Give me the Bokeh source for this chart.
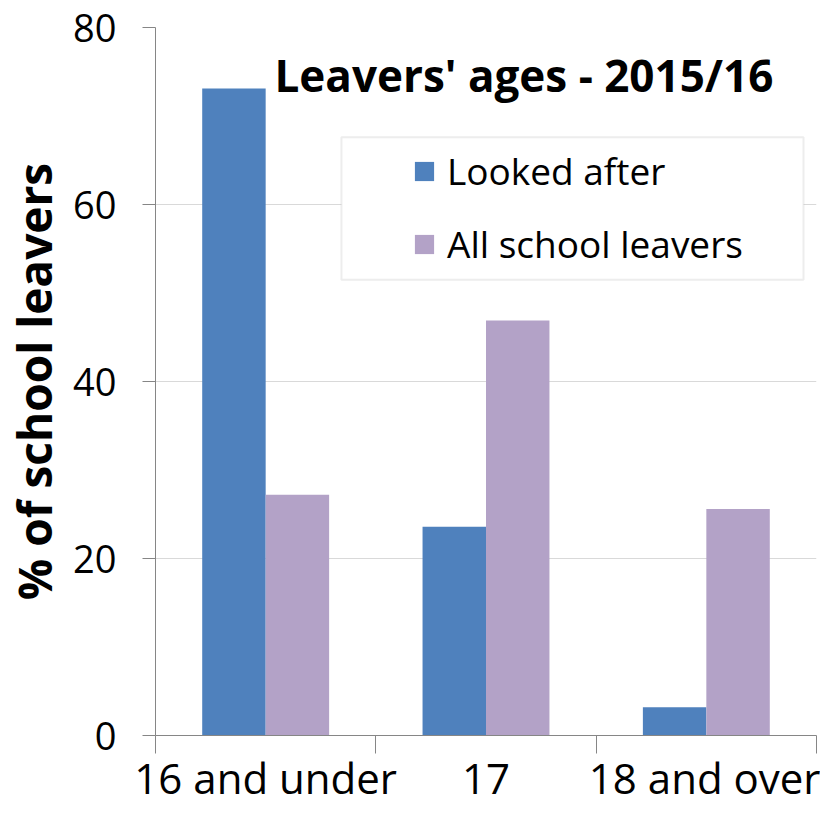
from bokeh.plotting import figure
from bokeh.models import (ColumnDataSource, Range1d, FixedTicker, Legend, LegendItem,
                          BoxAnnotation, Label)
from bokeh.transform import dodge
from bokeh.embed import file_html
from bokeh.resources import INLINE

# ---- data ----
categories = ["16 and under", "17", "18 and over"]
looked_after = [73.1, 23.6, 3.2]
all_leavers = [27.2, 46.9, 25.6]
y_ticks = [0, 20, 40, 60, 80]
series_names = ["Looked after", "All school leavers"]
title_text = "Leavers' ages - 2015/16"
y_label = "% of school leavers"

BLUE = "#4F81BD"
PURPLE = "#B3A2C7"
AXIS = "#868686"
GRID = "#D9D9D9"
FONT = "Open Sans"

centers = [i + 0.5 for i in range(len(categories))]
src = ColumnDataSource(dict(x=centers, cat=categories, la=looked_after, al=all_leavers))

p = figure(width=820, height=809, output_backend="svg", toolbar_location=None,
           x_range=Range1d(0, len(categories)), y_range=Range1d(0, 80),
           min_border_left=155, min_border_right=4, min_border_top=27,
           min_border_bottom=74, outline_line_color=None, background_fill_color="white")

bw = 0.288
r1 = p.vbar(x=dodge("x", -bw / 2, range=p.x_range), top="la", width=bw, source=src,
            fill_color=BLUE, line_color=None)
r2 = p.vbar(x=dodge("x", bw / 2, range=p.x_range), top="al", width=bw, source=src,
            fill_color=PURPLE, line_color=None)

# grid
p.xgrid.visible = False
p.ygrid.grid_line_color = GRID
p.ygrid.grid_line_width = 1
p.ygrid.ticker = FixedTicker(ticks=y_ticks[1:])

# y axis
p.yaxis.ticker = FixedTicker(ticks=y_ticks)
p.yaxis.axis_line_color = AXIS
p.yaxis.major_tick_line_color = AXIS
p.yaxis.major_tick_out = 13
p.yaxis.major_tick_in = 0
p.yaxis.minor_tick_line_color = None
p.yaxis.minor_tick_out = 0
p.yaxis.minor_tick_in = 0
p.yaxis.major_label_text_font = FONT
p.yaxis.major_label_text_font_size = "38px"
p.yaxis.major_label_text_color = "black"
p.yaxis.major_label_standoff = 26
p.yaxis.axis_label = y_label
p.yaxis.axis_label_text_font = FONT
p.yaxis.axis_label_text_font_style = "bold"
p.yaxis.axis_label_text_font_size = "46px"
p.yaxis.axis_label_text_color = "black"
p.yaxis.axis_label_standoff = 5

# x axis: labels at centers, tick marks at category boundaries
p.xaxis.ticker = FixedTicker(ticks=centers, minor_ticks=list(range(len(categories) + 1)))
p.xaxis.major_label_overrides = {c: cat for c, cat in zip(centers, categories)}
p.xaxis.axis_line_color = AXIS
p.xaxis.major_tick_out = 0
p.xaxis.major_tick_in = 0
p.xaxis.major_tick_line_color = None
p.xaxis.minor_tick_line_color = AXIS
p.xaxis.minor_tick_out = 18
p.xaxis.minor_tick_in = 0
p.xaxis.major_label_text_font = FONT
p.xaxis.major_label_text_font_size = "42px"
p.xaxis.major_label_text_color = "black"
p.xaxis.major_label_standoff = -5

# legend frame
box = BoxAnnotation(left=0.844, right=2.941, bottom=51.5, top=67.6,
                    fill_color="white", fill_alpha=1.0, line_color="#C4C4C4", line_width=2)
p.add_layout(box)

legend = Legend(items=[LegendItem(label=series_names[0], renderers=[r1]),
                       LegendItem(label=series_names[1], renderers=[r2])],
                location=(257, 466), orientation="vertical",
                background_fill_alpha=0, border_line_alpha=0,
                glyph_width=24, glyph_height=24, label_standoff=11,
                label_text_font=FONT, label_text_font_size="37px",
                label_text_color="black", padding=0, margin=0, spacing=22)
p.add_layout(legend, "center")

title = Label(x=1.672, y=74.6, text=title_text, text_align="center",
              text_baseline="alphabetic", text_font=FONT, text_font_style="bold",
              text_font_size="44px", text_color="black")
p.add_layout(title)

open("out.html", "w").write(file_html(p, INLINE))
